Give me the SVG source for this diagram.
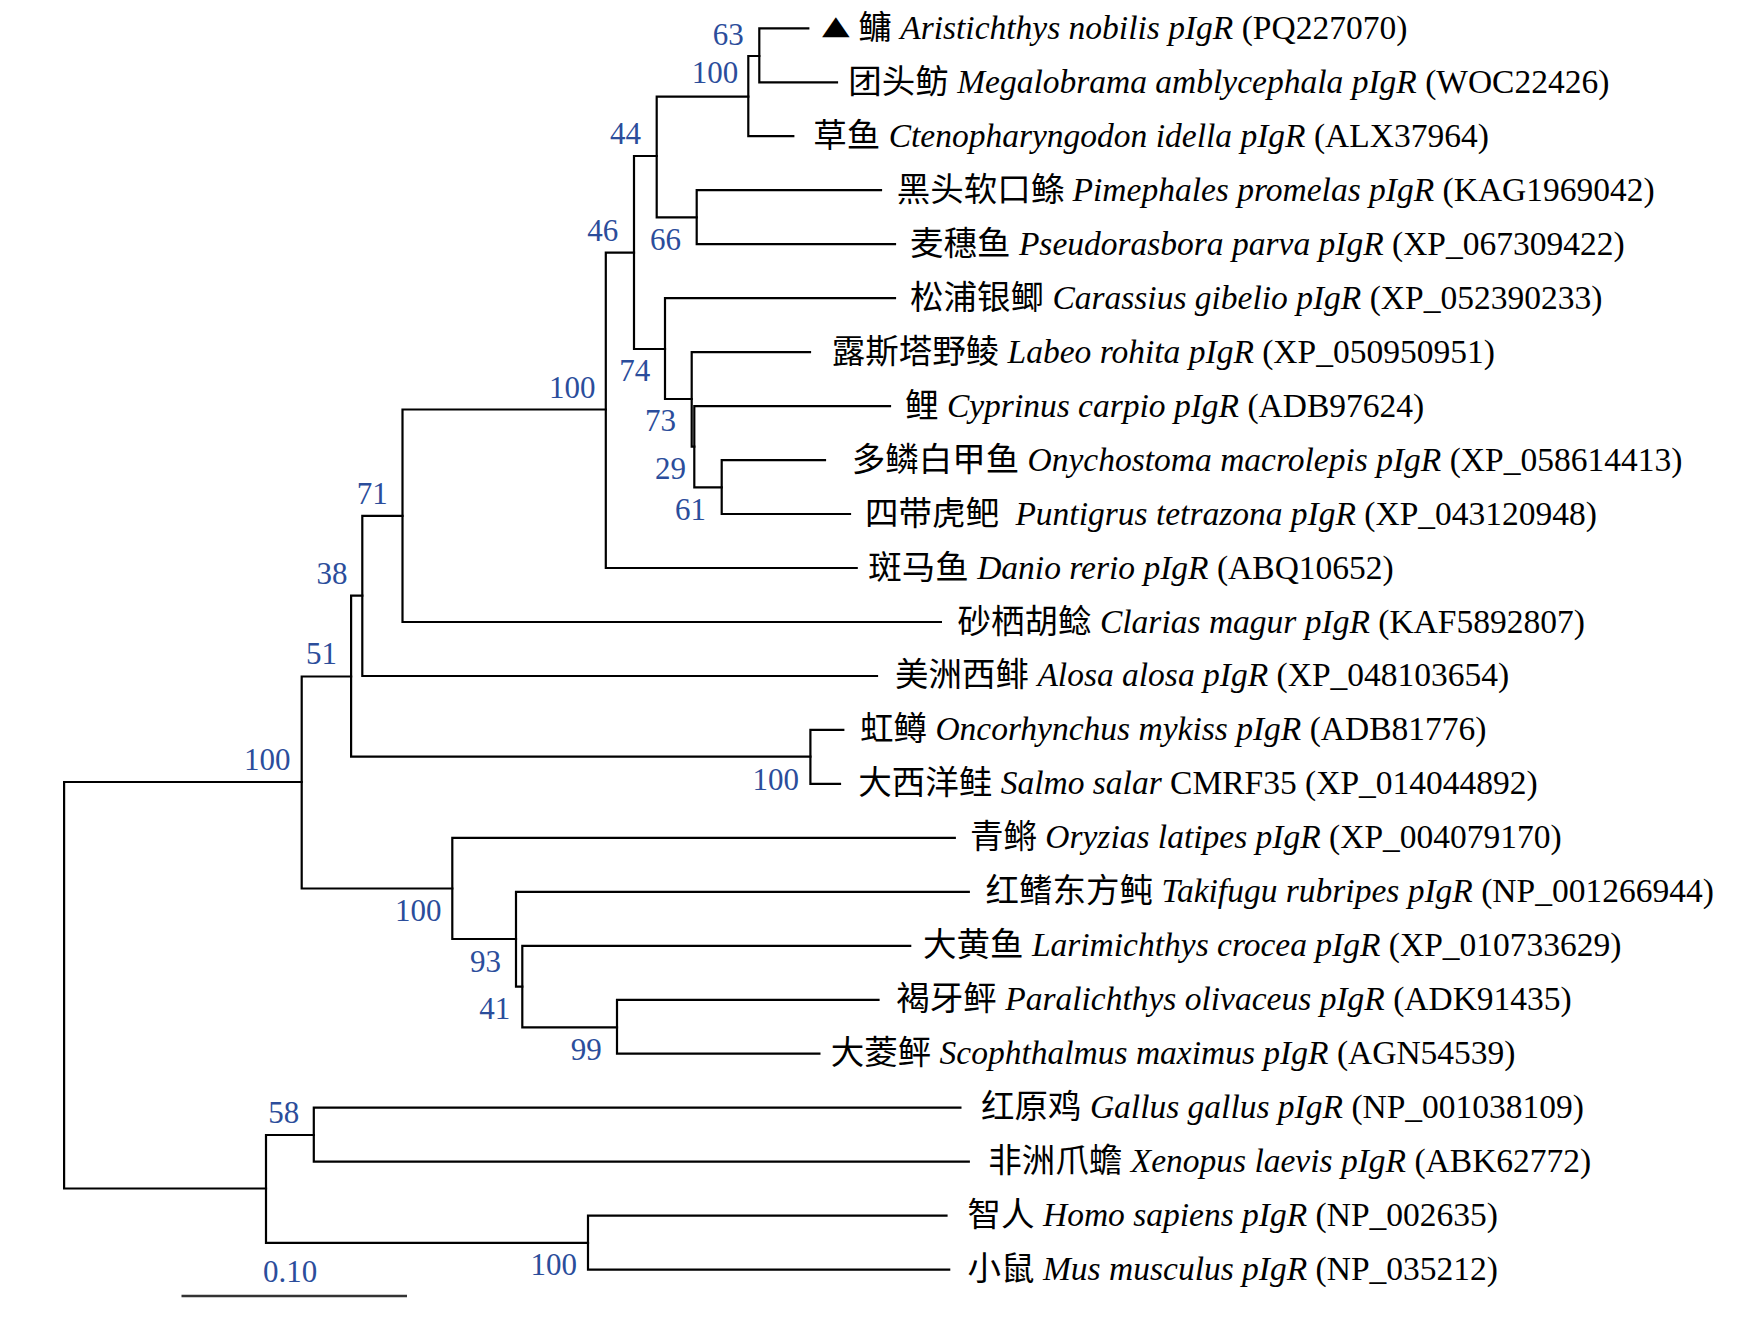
<svg xmlns="http://www.w3.org/2000/svg" width="1748" height="1324" viewBox="0 0 1748 1324">
<style>
.br{fill:none;stroke:#000;stroke-width:2.2;stroke-linecap:square}
.sc{fill:none;stroke:#333;stroke-width:2.4}
.lb{font-family:"Liberation Serif","Noto Sans CJK SC",serif;font-size:33.5px;fill:#000}
.it{font-style:italic}
.bs{font-family:"Liberation Serif",serif;font-size:31px;fill:#2b4d9b}
.tri{font-family:"DejaVu Sans",sans-serif;font-size:36px;fill:#000}
</style>
<rect width="1748" height="1324" fill="#fff"/>
<g id="connectors" class="br">
<path d="M64.1 782V1188.5M64.1 782H301.7M64.1 1188.5H266"/>
<path d="M301.7 676.5V888.5M301.7 676.5H351.1M301.7 888.5H452.3"/>
<path d="M351.1 595.6V756.7M351.1 595.6H362.3M351.1 756.7H810.4"/>
<path d="M362.3 515.8V676M362.3 515.8H402.5M362.3 676H877"/>
<path d="M402.5 409.5V622M402.5 409.5H605.8M402.5 622H940.9"/>
<path d="M605.8 252.7V568M605.8 252.7H634M605.8 568H856.7"/>
<path d="M634 156V349M634 156H656.7M634 349H665"/>
<path d="M656.7 96.7V217.3M656.7 96.7H748.3M656.7 217.3H696.7"/>
<path d="M748.3 56V136.2M748.3 56H759.3M748.3 136.2H793.3"/>
<path d="M759.3 28.3V82.3M759.3 28.3H808.3M759.3 82.3H837"/>
<path d="M696.7 190.2V244.2M696.7 190.2H881M696.7 244.2H895"/>
<path d="M665 298.2V399M665 298.2H895M665 399H691.7"/>
<path d="M691.7 352.1V446.7M691.7 352.1H810M691.7 446.7H694.3"/>
<path d="M694.3 406.1V487.3M694.3 406.1H890M694.3 487.3H721.7"/>
<path d="M721.7 460.1V514M721.7 460.1H825M721.7 514H850"/>
<path d="M810.4 729.9V783.9M810.4 729.9H843.3M810.4 783.9H840"/>
<path d="M452.3 837.9V939M452.3 837.9H954.8M452.3 939H516"/>
<path d="M516 891.8V986.7M516 891.8H968.8M516 986.7H522.3"/>
<path d="M522.3 945.8V1027.3M522.3 945.8H910.2M522.3 1027.3H617"/>
<path d="M617 999.8V1053.7M617 999.8H878.5M617 1053.7H819.4"/>
<path d="M266 1135V1242.8M266 1135H313.8M266 1242.8H588"/>
<path d="M313.8 1107.7V1161.7M313.8 1107.7H960.4M313.8 1161.7H968.8"/>
<path d="M588 1215.7V1269.6M588 1215.7H946.5M588 1269.6H949.2"/>
</g>
<g id="bootstrap-A"><text class="bs" x="712.7" y="45">63</text></g>
<g id="bootstrap-B"><text class="bs" x="691.7" y="83.3">100</text></g>
<g id="bootstrap-C"><text class="bs" x="610" y="144">44</text></g>
<g id="bootstrap-E"><text class="bs" x="587.3" y="240.7">46</text></g>
<g id="bootstrap-D"><text class="bs" x="650" y="250">66</text></g>
<g id="bootstrap-J"><text class="bs" x="549" y="397.6">100</text></g>
<g id="bootstrap-F"><text class="bs" x="619.3" y="380.7">74</text></g>
<g id="bootstrap-G"><text class="bs" x="645" y="430.7">73</text></g>
<g id="bootstrap-H"><text class="bs" x="655" y="479.3">29</text></g>
<g id="bootstrap-I"><text class="bs" x="675" y="520">61</text></g>
<g id="bootstrap-K"><text class="bs" x="356.7" y="504.4">71</text></g>
<g id="bootstrap-L"><text class="bs" x="316.6" y="583.8">38</text></g>
<g id="bootstrap-M"><text class="bs" x="306" y="664">51</text></g>
<g id="bootstrap-O"><text class="bs" x="244" y="770">100</text></g>
<g id="bootstrap-N"><text class="bs" x="752.5" y="789.5">100</text></g>
<g id="bootstrap-P"><text class="bs" x="395" y="920.7">100</text></g>
<g id="bootstrap-Q"><text class="bs" x="470" y="971.7">93</text></g>
<g id="bootstrap-R"><text class="bs" x="479.3" y="1019.3">41</text></g>
<g id="bootstrap-S"><text class="bs" x="570.7" y="1060">99</text></g>
<g id="bootstrap-U"><text class="bs" x="268.3" y="1123.3">58</text></g>
<g id="bootstrap-V"><text class="bs" x="530.6" y="1275">100</text></g>
<g id="leaf-01"><text class="tri" transform="translate(822 34) scale(1 0.72)" x="0" y="0">▲</text><text class="lb" x="858.3" y="38.8">鳙 <tspan class="it">Aristichthys nobilis pIgR</tspan> (PQ227070)</text></g>
<g id="leaf-02"><text class="lb" x="848.3" y="92.8">团头鲂 <tspan class="it">Megalobrama amblycephala pIgR</tspan> (WOC22426)</text></g>
<g id="leaf-03"><text class="lb" x="813.3" y="146.7">草鱼 <tspan class="it">Ctenopharyngodon idella pIgR</tspan> (ALX37964)</text></g>
<g id="leaf-04"><text class="lb" x="896.7" y="200.7">黑头软口鲦 <tspan class="it">Pimephales promelas pIgR</tspan> (KAG1969042)</text></g>
<g id="leaf-05"><text class="lb" x="910" y="254.7">麦穗鱼 <tspan class="it">Pseudorasbora parva pIgR</tspan> (XP_067309422)</text></g>
<g id="leaf-06"><text class="lb" x="910" y="308.7">松浦银鲫 <tspan class="it">Carassius gibelio pIgR</tspan> (XP_052390233)</text></g>
<g id="leaf-07"><text class="lb" x="831.7" y="362.6">露斯塔野鲮 <tspan class="it">Labeo rohita pIgR</tspan> (XP_050950951)</text></g>
<g id="leaf-08"><text class="lb" x="905" y="416.6">鲤 <tspan class="it">Cyprinus carpio pIgR</tspan> (ADB97624)</text></g>
<g id="leaf-09"><text class="lb" x="851.7" y="470.6">多鳞白甲鱼 <tspan class="it">Onychostoma macrolepis pIgR</tspan> (XP_058614413)</text></g>
<g id="leaf-10"><text class="lb" x="865" y="524.5">四带虎鲃 <tspan class="it" dx="8">Puntigrus tetrazona pIgR</tspan> (XP_043120948)</text></g>
<g id="leaf-11"><text class="lb" x="868.3" y="578.5">斑马鱼 <tspan class="it">Danio rerio pIgR</tspan> (ABQ10652)</text></g>
<g id="leaf-12"><text class="lb" x="957.6" y="632.5">砂栖胡鲶 <tspan class="it">Clarias magur pIgR</tspan> (KAF5892807)</text></g>
<g id="leaf-13"><text class="lb" x="895" y="686.4">美洲西鲱 <tspan class="it">Alosa alosa pIgR</tspan> (XP_048103654)</text></g>
<g id="leaf-14"><text class="lb" x="860" y="740.4">虹鳟 <tspan class="it">Oncorhynchus mykiss pIgR</tspan> (ADB81776)</text></g>
<g id="leaf-15"><text class="lb" x="858.3" y="794.4">大西洋鲑 <tspan class="it">Salmo salar</tspan> CMRF35 (XP_014044892)</text></g>
<g id="leaf-16"><text class="lb" x="969.9" y="848.4">青鳉 <tspan class="it">Oryzias latipes pIgR</tspan> (XP_004079170)</text></g>
<g id="leaf-17"><text class="lb" x="985.5" y="902.3">红鳍东方鲀 <tspan class="it">Takifugu rubripes pIgR</tspan> (NP_001266944)</text></g>
<g id="leaf-18"><text class="lb" x="923" y="956.3">大黄鱼 <tspan class="it">Larimichthys crocea pIgR</tspan> (XP_010733629)</text></g>
<g id="leaf-19"><text class="lb" x="896.3" y="1010.3">褐牙鲆 <tspan class="it">Paralichthys olivaceus pIgR</tspan> (ADK91435)</text></g>
<g id="leaf-20"><text class="lb" x="830.7" y="1064.2">大菱鲆 <tspan class="it">Scophthalmus maximus pIgR</tspan> (AGN54539)</text></g>
<g id="leaf-21"><text class="lb" x="981" y="1118.2">红原鸡 <tspan class="it">Gallus gallus pIgR</tspan> (NP_001038109)</text></g>
<g id="leaf-22"><text class="lb" x="988.3" y="1172.2">非洲爪蟾 <tspan class="it">Xenopus laevis pIgR</tspan> (ABK62772)</text></g>
<g id="leaf-23"><text class="lb" x="967.6" y="1226.1">智人 <tspan class="it">Homo sapiens pIgR</tspan> (NP_002635)</text></g>
<g id="leaf-24"><text class="lb" x="967.6" y="1280.1">小鼠 <tspan class="it">Mus musculus pIgR</tspan> (NP_035212)</text></g>
<g id="scale-bar"><path class="sc" d="M181.5 1296H407"/><text class="bs" x="263" y="1281.7">0.10</text></g>
</svg>
